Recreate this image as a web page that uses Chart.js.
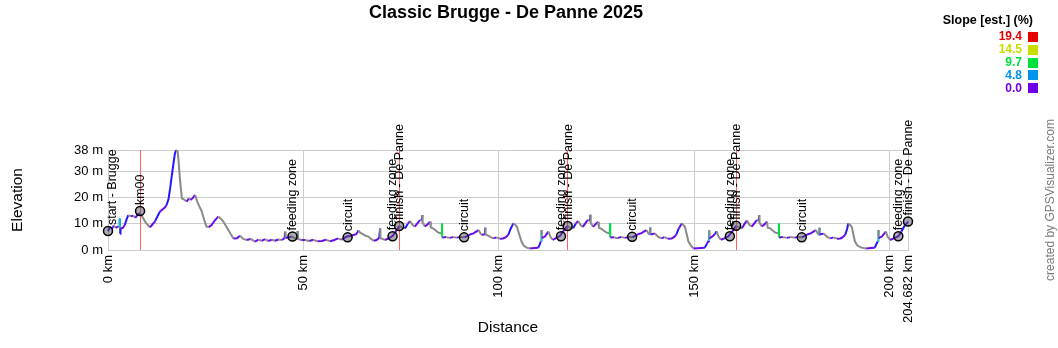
<!DOCTYPE html>
<html>
<head>
<meta charset="utf-8">
<script src="https://cdn.jsdelivr.net/npm/chart.js@4/dist/chart.umd.min.js"></script>
<style>
  html, body { margin: 0; padding: 0; background: #ffffff; }
  #wrap { position: relative; width: 1058px; height: 348px; }
  canvas { display: block; }
</style>
</head>
<body>
<div id="wrap"><canvas id="c" width="1058" height="348"></canvas></div>
<script>
// ---------- DATA ----------
const TITLE = "Classic Brugge - De Panne 2025";
const DIST_KM = [
  0.0, 0.5, 1.0, 1.5, 2.0, 2.6, 2.9, 3.0, 3.05, 3.1, 3.2, 3.8, 4.3, 4.8, 5.2, 5.8, 6.5, 7.0, 7.6, 8.2,
  8.8, 9.5, 10.1, 10.7, 11.2, 12.0, 12.7, 13.3, 14.0, 14.6, 15.0, 15.5, 15.9, 16.3, 16.7, 17.1, 17.4, 17.8, 18.0, 18.4,
  18.9, 19.5, 20.1, 20.7, 21.1, 21.6, 22.0, 22.3, 22.8, 23.4, 24.0, 24.6, 25.2, 25.8, 26.5, 27.3, 28.2, 28.8, 29.5, 30.1,
  30.8, 31.5, 32.1, 33.0, 33.8, 34.6, 35.5, 36.5, 37.6, 38.5, 39.3, 40.2, 41.0, 41.9, 42.7, 43.6, 44.5, 45.2, 45.3, 45.45,
  46.2, 47.0, 47.6, 48.45, 48.5, 48.6, 49.5, 50.4, 51.5, 52.5, 53.6, 54.7, 55.8, 56.8, 57.9, 58.9, 59.8, 60.5, 61.1, 62.0,
  62.8, 63.5, 64.1, 64.5, 65.2, 65.9, 66.6, 67.3, 68.0, 68.7, 69.4, 69.6, 69.7, 70.3, 70.9, 71.8, 72.8, 73.6, 74.5,
  75.2, 76.0, 76.7, 77.3, 77.9, 78.5, 79.2, 79.8, 80.3, 80.4, 80.5, 81.1, 81.8, 82.4, 82.6, 83.2, 83.7, 84.5, 85.4, 85.45,
  85.5, 86.5, 87.4, 88.3, 89.2, 90.2, 91.2, 92.0, 92.8, 93.5, 94.2, 94.8, 95.3, 95.7, 96.3, 96.45, 96.5, 96.6, 97.8, 98.6,
  99.4, 100.2, 101.1, 101.8, 102.4, 103.0, 103.7, 104.2, 104.6, 105.2, 105.8, 106.4, 107.1, 108.0, 109.0, 110.1, 110.5, 110.7, 110.85, 110.9,
  111.0, 111.8, 112.3, 112.7, 113.2, 113.8, 114.6, 115.6, 116.5, 117.5,
  118.2, 119.0, 119.7, 120.3, 120.9, 121.5, 122.2, 122.8, 123.3, 123.4, 123.5, 124.1, 124.8, 125.4, 125.6, 126.2, 126.7, 127.5, 128.4, 128.45,
  128.5, 129.5, 130.4, 131.3, 132.2, 133.2, 134.1, 135.0, 135.8, 136.5, 137.2, 137.8, 138.3, 138.65, 138.7, 138.8, 139.9, 140.8, 141.6, 142.4,
  143.2, 144.2, 144.8, 145.4, 146.0, 146.8, 147.2, 147.6, 148.1, 148.5, 149.2, 149.8, 150.8, 151.8, 152.7, 153.2, 153.6, 153.75, 153.8, 153.9,
  154.7, 155.3, 155.7, 156.2, 156.8, 157.7, 158.7, 159.7, 160.7,
  161.4, 162.2, 162.9, 163.5, 164.1, 164.7, 165.4, 166.0, 166.5, 166.6, 166.7, 167.3, 168.0, 168.6, 168.8, 169.4, 169.9, 170.7, 171.6, 171.65,
  171.7, 172.7, 173.7, 174.6, 175.6, 176.6, 177.5, 178.3, 179.1, 179.8, 180.5, 181.1, 181.6, 181.95, 182.0, 182.1, 183.1, 184.0, 184.8, 185.6,
  186.5, 187.4, 188.0, 188.6, 189.1, 189.4, 189.9, 190.3, 190.7, 191.1, 191.8, 192.8, 194.0, 195.2, 196.2, 196.6, 196.9, 197.05, 197.1, 197.2,
  198.0, 198.6, 199.0, 199.5, 200.1, 201.0, 202.2, 203.0, 203.8, 204.682
];
const ELEV_M = [
  7.2, 8.8, 8.1, 9.3, 8.4, 9.0, 8.6, 12.0, 8.5, 6.2, 8.2, 8.4, 9.5, 11.8, 13.3, 12.8, 13.0, 12.2, 13.5, 14.0,
  12.5, 10.8, 9.6, 8.6, 9.4, 10.8, 12.9, 14.6, 15.5, 16.2, 17.1, 19.5, 23.4, 28.0, 32.3, 36.5, 38.0, 37.5, 34.8, 27.0,
  19.6, 19.2, 18.4, 19.6, 19.0, 19.6, 20.4, 20.9, 18.5, 16.5, 14.6, 11.5, 8.9, 8.7, 9.5, 11.2, 12.7, 12.0, 10.8, 9.3,
  7.6, 5.8, 4.4, 4.5, 5.4, 4.2, 3.8, 4.2, 3.2, 3.9, 3.5, 4.1, 3.4, 3.9, 3.5, 4.0, 3.8, 4.5, 7.0, 4.6,
  4.8, 5.1, 4.6, 4.4, 7.2, 4.2, 3.8, 3.8, 3.4, 3.9, 3.3, 3.4, 3.9, 3.3, 3.8, 4.4, 3.9, 4.6, 5.1, 5.3,
  5.7, 6.0, 7.4, 6.6, 6.0, 5.4, 5.1, 4.2, 3.5, 3.8, 4.6, 8.2, 4.5, 4.2, 3.8, 4.4, 5.3, 7.0, 9.1,
  8.6, 8.2, 10.0, 11.0, 9.6, 8.9, 10.2, 11.4, 11.2, 13.3, 10.5, 8.9, 9.8, 10.8, 8.5, 8.2, 7.6, 6.6, 6.3, 10.1,
  4.7, 4.9, 4.6, 4.9, 4.7, 4.9, 4.8, 5.4, 6.0, 6.3, 7.0, 7.6, 6.3, 5.7, 6.0, 6.3, 8.5, 6.0, 5.0, 4.4,
  4.8, 4.3, 4.4, 4.9, 5.7, 8.0, 10.1, 9.6, 8.9, 6.0, 3.2, 1.6, 0.9, 0.6, 0.8, 0.9, 2.2, 3.2, 3.4, 7.6,
  4.5, 5.1, 6.2, 7.0, 5.0, 3.8, 4.5, 5.3, 7.2, 9.1,
  8.5, 8.3, 10.1, 11.0, 9.5, 8.8, 10.3, 11.5, 11.0, 13.4, 10.4, 8.8, 9.9, 10.7, 8.4, 8.1, 7.5, 6.7, 6.2, 10.2,
  4.8, 4.8, 4.5, 5.0, 4.6, 4.9, 4.8, 5.5, 6.1, 6.4, 7.1, 7.5, 6.2, 5.8, 8.6, 5.9, 6.3, 5.0, 4.4, 4.9,
  4.3, 4.4, 4.9, 5.8, 8.1, 10.1, 9.5, 8.8, 5.8, 3.2, 1.5, 0.6, 0.7, 0.8, 0.9, 2.3, 3.3, 3.4, 7.5, 4.4,
  5.2, 6.1, 7.1, 5.1, 3.9, 4.4, 5.2, 7.0, 9.2,
  8.6, 8.3, 10.0, 11.2, 9.6, 8.9, 10.2, 11.4, 11.1, 13.2, 10.4, 8.9, 9.8, 10.8, 8.5, 8.2, 7.6, 6.6, 6.3, 10.1,
  4.7, 4.9, 4.6, 4.9, 4.7, 4.9, 4.8, 5.4, 6.0, 6.3, 7.0, 7.6, 6.3, 5.7, 8.5, 6.0, 6.2, 5.0, 4.4, 4.8,
  4.3, 4.4, 4.9, 5.7, 8.0, 10.1, 9.5, 8.8, 6.0, 3.2, 1.6, 0.9, 0.6, 0.8, 0.9, 2.3, 3.2, 3.4, 7.6, 4.5,
  5.1, 6.2, 7.0, 5.0, 3.8, 4.4, 5.2, 7.0, 9.2, 10.8
];
const WAYPOINT_NAMES = ["start - Brugge", "km00", "feeding zone", "circuit", "feeding zone", "finish - De Panne",
  "circuit", "feeding zone", "finish - De Panne", "circuit", "feeding zone", "finish - De Panne",
  "circuit", "feeding zone", "finish - De Panne"];
const WAYPOINT_KM = [0.0, 8.2, 47.2, 61.3, 72.8, 74.5, 91.1, 115.9, 117.6, 134.1, 159.1, 160.7, 177.5, 202.2, 204.682];
const WAYPOINT_ELEV = [7.2, 14.8, 5.1, 4.8, 5.2, 9.1, 4.8, 5.2, 9.1, 5.0, 5.2, 9.2, 4.8, 5.2, 10.8];
const MARKER_LINES_KM = [8.2, 74.5, 117.5, 160.7];
const X_TICKS = [0, 50, 100, 150, 200, 204.682];
const Y_TICKS = [0, 10, 20, 30, 38];
const LEGEND_TITLE = "Slope [est.] (%)";
const LEGEND_VALUES = ["19.4", "14.5", "9.7", "4.8", "0.0"];
const LEGEND_COLORS = ["#e60000", "#c8dc00", "#00e03c", "#0094ec", "#7000e8"];
const CREDIT = "created by GPSVisualizer.com";

// ---------- CHART ----------
const FONT = '"Liberation Sans", Arial, sans-serif';
const profile = DIST_KM.map((d, i) => ({ x: d, y: ELEV_M[i] }));
const waypoints = WAYPOINT_KM.map((d, i) => ({ x: d, y: WAYPOINT_ELEV[i] }));

function slopeColor(ctx) {
  const p0 = ctx.p0.parsed, p1 = ctx.p1.parsed;
  const dx = (p1.x - p0.x) * 1000;
  const slope = dx > 0 ? (p1.y - p0.y) / dx * 100 : 0;
  const a = Math.abs(slope);
  if (a >= 14.5) return "#c8dc00";
  if (a >= 9.7) return "#00e03c";
  if (a >= 4.8) return "#10c0d0";
  if (slope < 0) return "#8a8a8a";
  if (slope < 0.25) return "#6a0cec";
  return "#2418ff";
}

const overlay = {
  id: "overlay",
  beforeDatasetsDraw(chart) {
    const { ctx, chartArea, scales } = chart;
    ctx.save();
    ctx.strokeStyle = "#ff6060";
    ctx.lineWidth = 1;
    MARKER_LINES_KM.forEach(k => {
      const x = Math.round(scales.x.getPixelForValue(k)) + 0.5;
      ctx.beginPath();
      ctx.moveTo(x, chartArea.top);
      ctx.lineTo(x, chartArea.bottom);
      ctx.stroke();
    });
    ctx.restore();
  },
  afterDatasetsDraw(chart) {
    const { ctx, scales } = chart;
    ctx.save();
    ctx.fillStyle = "#000";
    ctx.font = "12.5px " + FONT;
    ctx.textAlign = "left";
    ctx.textBaseline = "middle";
    WAYPOINT_NAMES.forEach((name, i) => {
      const px = scales.x.getPixelForValue(WAYPOINT_KM[i]) + (i === 0 ? 5 : 0.5);
      const py = scales.y.getPixelForValue(WAYPOINT_ELEV[i]) - 6;
      ctx.save();
      ctx.translate(px, py);
      ctx.rotate(-Math.PI / 2);
      ctx.fillText(name, 0, 0);
      ctx.restore();
    });
    ctx.restore();
  },
  afterDraw(chart) {
    const { ctx } = chart;
    ctx.save();
    // title
    ctx.fillStyle = "#000";
    ctx.font = "bold 18px " + FONT;
    ctx.textAlign = "center";
    ctx.textBaseline = "middle";
    ctx.fillText(TITLE, 506, 13);
    // legend
    ctx.font = "bold 12.5px " + FONT;
    ctx.textAlign = "right";
    ctx.fillText(LEGEND_TITLE, 1033, 21);
    ctx.font = "bold 12px " + FONT;
    LEGEND_VALUES.forEach((v, i) => {
      const y = 37 + i * 12.8;
      ctx.fillStyle = LEGEND_COLORS[i];
      ctx.fillText(v, 1022, y);
      ctx.fillRect(1028, Math.round(y - 5), 10, 10);
    });
    // credit
    ctx.fillStyle = "#7a7a7a";
    ctx.font = "12px " + FONT;
    ctx.textAlign = "center";
    ctx.translate(1051, 200);
    ctx.rotate(-Math.PI / 2);
    ctx.fillText(CREDIT, 0, 0);
    ctx.restore();
  }
};

new Chart(document.getElementById("c"), {
  type: "line",
  data: {
    datasets: [
      {
        label: "waypoints",
        data: waypoints,
        showLine: false,
        pointRadius: 4.5,
        pointBorderWidth: 1.5,
        pointBorderColor: "#000",
        pointBackgroundColor: "rgba(70,70,90,0.45)",
        clip: false,
        order: 0
      },
      {
        label: "elevation",
        data: profile,
        borderWidth: 2,
        pointRadius: 0,
        tension: 0,
        borderColor: "#2418ff",
        segment: { borderColor: slopeColor },
        clip: 4,
        order: 1
      }
    ]
  },
  options: {
    responsive: false,
    animation: false,
    devicePixelRatio: 1,
    layout: { padding: { left: 0, right: 150, top: 150, bottom: 0 } },
    plugins: { legend: { display: false }, tooltip: { enabled: false }, title: { display: false } },
    scales: {
      x: {
        type: "linear",
        min: 0,
        max: 204.682,
        afterBuildTicks: (axis) => { axis.ticks = X_TICKS.map(v => ({ value: v })); },
        afterFit: (scale) => { scale.height = 98; },
        ticks: {
          autoSkip: false,
          minRotation: 90,
          maxRotation: 90,
          padding: 5,
          color: "#000",
          font: { family: FONT, size: 13 },
          callback: (v) => v + " km"
        },
        grid: { color: "#cccccc", drawTicks: false, lineWidth: 1 },
        border: { color: "#cccccc" },
        title: { display: true, text: "Distance", color: "#000", font: { family: FONT, size: 15.5 }, padding: { top: 0, bottom: 11 } }
      },
      y: {
        type: "linear",
        min: 0,
        max: 38,
        afterBuildTicks: (axis) => { axis.ticks = Y_TICKS.map(v => ({ value: v })); },
        afterFit: (scale) => { scale.width = 108; },
        ticks: {
          padding: 5,
          color: "#000",
          font: { family: FONT, size: 13 },
          callback: (v) => v + " m"
        },
        grid: { color: "#cccccc", drawTicks: false, lineWidth: 1 },
        border: { color: "#cccccc" },
        title: { display: true, text: "Elevation", color: "#000", font: { family: FONT, size: 15.5 }, padding: { top: 8, bottom: 0 } }
      }
    }
  },
  plugins: [overlay]
});
</script>
</body>
</html>
